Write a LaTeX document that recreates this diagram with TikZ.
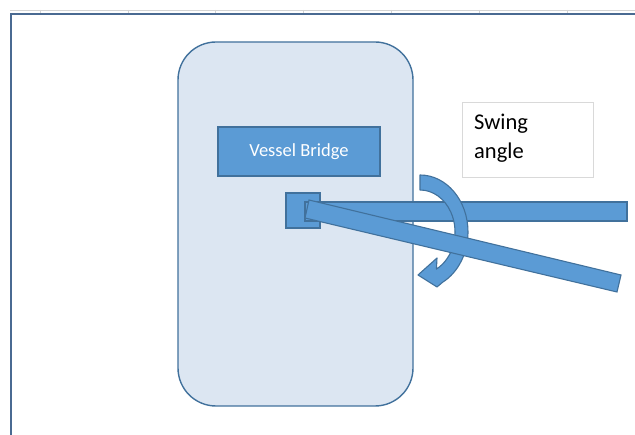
\documentclass[tikz,border=0pt]{standalone}
\usepackage{fontspec}
\setmainfont{Carlito}
\definecolor{framec}{HTML}{4A6A92}
\definecolor{shipfill}{HTML}{DCE6F2}
\definecolor{shipline}{HTML}{41719C}
\definecolor{accent}{HTML}{5B9BD5}
\definecolor{rulegray}{HTML}{D4D4D4}
\definecolor{boxgray}{HTML}{D9D9D9}
\begin{document}
\begin{tikzpicture}[x=1pt,y=1pt,
  bluepart/.style={fill=accent,draw=shipline,line width=1.1pt,line join=miter},
  shipbody/.style={fill=shipfill,draw=shipline,line width=1.4pt,rounded corners=38pt}]
\useasboundingbox[fill=white] (0,0) rectangle (635,435);
% top ruler line
\draw[rulegray,line width=0.9pt] (10,425) -- (635,425);
\foreach \tx in {40,128,215,303,391,479,567}
  \draw[rulegray,line width=0.8pt] (\tx,425) -- (\tx,421);
% frame
\draw[framec,line width=2.6pt] (11,-5) -- (11,421) -- (645,421);
% ship body
\draw[shipbody] (178,29) rectangle (413,393);
% vessel bridge
\node[bluepart,minimum width=162pt,minimum height=49pt,inner sep=0pt,
  text=white,font=\fontsize{18.5}{22}\selectfont] (bridge) at (299,283.5) {Vessel Bridge};
% swing angle label box
\node[draw=boxgray,fill=white,line width=0.9pt,minimum width=131pt,minimum height=75pt,inner sep=0pt] (swingbox) at (527.5,295.5) {};
\node[anchor=north west,align=left,inner sep=0pt,font=\fontsize{22.5}{29.5}\selectfont] (swingtext) at (474,321.5) {Swing\\angle};
% crane pivot
\node[bluepart,minimum width=34pt,minimum height=35pt,inner sep=0pt] (pivot) at (303,224.5) {};
% boom (horizontal position)
\draw[bluepart] (305,214) rectangle (627,233);
% curved swing arrow
\coordinate (arcc) at (420,203);
\draw[bluepart,line join=round] (420,260)
  arc[start angle=90,end angle=-62,x radius=48,y radius=57]
  -- (437,148) -- (418,160) -- (437,177) -- (436.43,165.92)
  arc[start angle=-62,end angle=90,x radius=35,y radius=42] -- cycle;
% boom (swung position)
\draw[bluepart] (309,235) -- (621,160) -- (617,143) -- (305,217) -- cycle;
\end{tikzpicture}
\end{document}
